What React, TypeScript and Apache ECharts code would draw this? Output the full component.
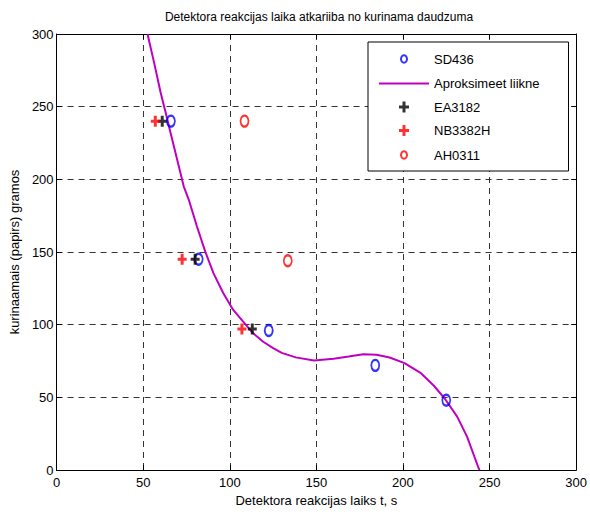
import React, { useEffect, useRef } from "react";
import * as echarts from "echarts";

const titleText = "Detektora reakcijas laika atkariiba no kurinama daudzuma";
const xAxisName = "Detektora reakcijas laiks t, s";
const yAxisName = "kurinaamais (papirs) gramos";

const seriesNames = ["SD436", "Aproksimeet liikne", "EA3182", "NB3382H", "AH0311"];

const sd436T = [66, 82, 122.5, 184, 225];
const sd436M = [240, 145, 96, 72, 48];

const ea3182T = [61, 80, 113];
const ea3182M = [240, 145, 97];

const nb3382hT = [57, 72.5, 107];
const nb3382hM = [240, 145, 97];

const ah0311T = [108.5, 133.5];
const ah0311M = [240, 144];

const curveT = [52.5, 56.3, 60.1, 63.0, 65.8, 69.6, 73.4, 76.3, 81.0, 85.8, 90.5, 96.2, 101.9, 107.6, 113.4, 119.1, 124.8, 130.0, 138.1, 148.6, 160.0, 168.6, 177.1, 184.7, 192.3, 200.9, 210.4, 218.0, 224.7, 231.3, 237.0, 243.7, 244.3];
const curveM = [300, 280.3, 259.6, 245.8, 232.0, 213.6, 195.2, 186.1, 167.7, 150.4, 135.6, 121.8, 110.3, 102.2, 94.2, 88.4, 84.0, 80.6, 77.5, 75.3, 76.5, 78.1, 79.7, 79.3, 77.4, 73.5, 66.6, 57.8, 48.2, 36.7, 23.0, 1.2, 0];

const xMin = 0, xMax = 300, xStep = 50;
const yMin = 0, yMax = 300, yStep = 50;

const FONT = "'Liberation Sans', Arial, sans-serif";
const BLUE = "#0000ff";
const RED = "#ff0000";
const BLACK = "#000000";
const MAGENTA = "#c000c0";

const ellipseSymbol = "path://M5,0A5,5,0,1,1,4.99,0Z";
const plusSymbol = "path://M3,0H6V4H9V7H6V11H3V7H0V4H3Z";
const ellipseIcon = "path://M0,0M50,14M25,3.2A3,3.8,0,1,1,24.99,3.2Z";
const plusIcon = "path://M0,0M50,14M23.5,1.5h3v4h3.5v3h-3.5v4h-3v-4h-3.5v-3h3.5z";
const lineIcon = "path://M0,0M50,14M0,6H50V8H0Z";

const zip = (a: number[], b: number[]) => a.map((v, i) => [v, b[i]]);

export default function App() {
  const ref = useRef<HTMLDivElement>(null);
  useEffect(() => {
    if (!ref.current) return;
    const chart = echarts.init(ref.current, undefined, { renderer: "svg" });
    const axisCommon = {
      type: "value" as const,
      axisLine: { show: true, onZero: false, lineStyle: { color: BLACK, width: 1 } },
      axisTick: { show: true, inside: true, length: 5, lineStyle: { color: BLACK } },
    };
    chart.setOption({
      animation: false,
      backgroundColor: "#ffffff",
      textStyle: { fontFamily: FONT },
      title: {
        text: titleText,
        left: 314,
        textAlign: "center",
        top: 6,
        textStyle: { fontSize: 12, fontWeight: "normal", color: BLACK, fontFamily: FONT },
      },
      grid: { left: 51, right: 13, top: 34, bottom: 45, show: false },
      legend: {
        orient: "vertical",
        left: 368,
        top: 42,
        itemWidth: 50,
        itemHeight: 14,
        itemGap: 9.5,
        padding: [9, 29, 8, 10],
        backgroundColor: "#ffffff",
        borderColor: BLACK,
        borderWidth: 1,
        borderRadius: 0,
        textStyle: { fontSize: 13, color: BLACK, fontFamily: FONT },
        data: [
          { name: seriesNames[0], icon: ellipseIcon, itemStyle: { color: "rgba(0,0,0,0)", borderColor: BLUE, borderWidth: 2 } },
          { name: seriesNames[1], icon: lineIcon, itemStyle: { color: MAGENTA, borderWidth: 0 } },
          { name: seriesNames[2], icon: plusIcon, itemStyle: { color: BLACK, borderWidth: 0 } },
          { name: seriesNames[3], icon: plusIcon, itemStyle: { color: RED, borderWidth: 0 } },
          { name: seriesNames[4], icon: ellipseIcon, itemStyle: { color: "rgba(0,0,0,0)", borderColor: RED, borderWidth: 2 } },
        ],
      },
      xAxis: [
        {
          ...axisCommon,
          position: "bottom",
          min: xMin,
          max: xMax,
          interval: xStep,
          axisLabel: { color: BLACK, fontSize: 13, margin: 6, fontFamily: FONT },
          splitLine: { show: true, lineStyle: { type: [6, 5], color: "#333333", width: 1 } },
          name: xAxisName,
          nameLocation: "middle",
          nameGap: 21,
          nameTextStyle: { fontSize: 13, color: BLACK, fontFamily: FONT },
        },
        {
          ...axisCommon,
          position: "top",
          min: xMin,
          max: xMax,
          interval: xStep,
          axisLabel: { show: false },
          splitLine: { show: false },
        },
      ],
      yAxis: [
        {
          ...axisCommon,
          position: "left",
          min: yMin,
          max: yMax,
          interval: yStep,
          axisLabel: { color: BLACK, fontSize: 13, margin: 3, fontFamily: FONT },
          splitLine: { show: true, lineStyle: { type: [6, 5], color: "#333333", width: 1 } },
          name: yAxisName,
          nameLocation: "middle",
          nameGap: 28,
          nameTextStyle: { fontSize: 13, color: BLACK, fontFamily: FONT },
        },
        {
          ...axisCommon,
          position: "right",
          min: yMin,
          max: yMax,
          interval: yStep,
          axisLabel: { show: false },
          splitLine: { show: false },
        },
      ],
      series: [
        {
          name: seriesNames[0],
          type: "scatter",
          data: zip(sd436T, sd436M),
          symbol: ellipseSymbol,
          symbolSize: [8, 11],
          itemStyle: { color: "rgba(0,0,0,0)", borderColor: BLUE, borderWidth: 2 },
          z: 3,
        },
        {
          name: seriesNames[1],
          type: "line",
          data: zip(curveT, curveM),
          symbol: "none",
          smooth: false,
          lineStyle: { color: MAGENTA, width: 2 },
          itemStyle: { color: MAGENTA },
          z: 2,
        },
        {
          name: seriesNames[2],
          type: "scatter",
          data: zip(ea3182T, ea3182M),
          symbol: plusSymbol,
          symbolSize: [9, 11],
          itemStyle: { color: BLACK },
          z: 4,
        },
        {
          name: seriesNames[3],
          type: "scatter",
          data: zip(nb3382hT, nb3382hM),
          symbol: plusSymbol,
          symbolSize: [9, 11],
          itemStyle: { color: RED },
          z: 4,
        },
        {
          name: seriesNames[4],
          type: "scatter",
          data: zip(ah0311T, ah0311M),
          symbol: ellipseSymbol,
          symbolSize: [8, 11],
          itemStyle: { color: "rgba(0,0,0,0)", borderColor: RED, borderWidth: 2 },
          z: 3,
        },
      ],
    });
    return () => chart.dispose();
  }, []);
  return (
    <div
      ref={ref}
      style={{ position: "fixed", left: 0, top: 0, width: 590, height: 515, background: "#fff" }}
    />
  );
}
